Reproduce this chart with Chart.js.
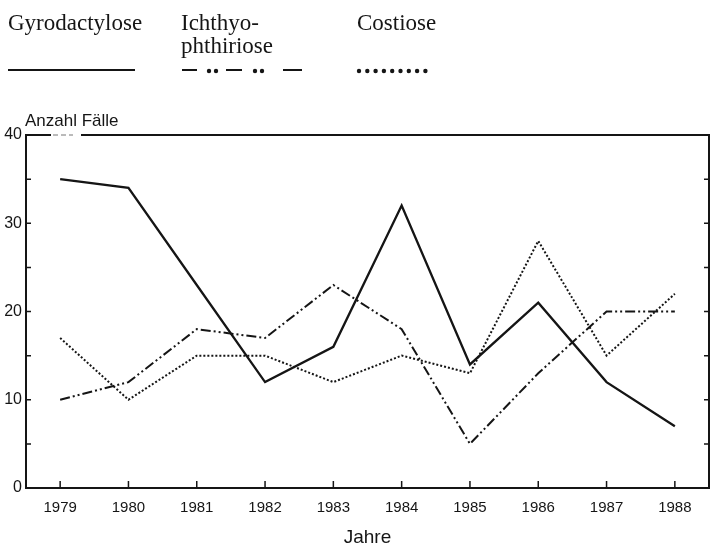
<!DOCTYPE html>
<html>
<head>
<meta charset="utf-8">
<script src="https://cdn.jsdelivr.net/npm/chart.js@4"></script>
<style>
  html, body { margin: 0; padding: 0; background: #fff; }
  #wrap { width: 712px; height: 547px; }
</style>
</head>
<body>
<div id="wrap"><canvas id="myChart" width="712" height="547"></canvas></div>
<script>
// Jahre und Fallzahlen
const years = ['1979', '1980', '1981', '1982', '1983', '1984', '1985', '1986', '1987', '1988'];
const gyrodactylose = [35, 34, 23, 12, 16, 32, 14, 21, 12, 7];
const ichthyo = [10, 12, 18, 17, 23, 18, 5, 13, 20, 20];
const costiose = [17, 10, 15, 15, 12, 15, 13, 28, 15, 22];
const yTicks = [0, 10, 20, 30, 40];

const ink = '#151515';
const dashDotDot = [10, 3, 2, 3, 2, 3];
const dotted = [2, 2];

// legende + rahmen selber malen
const frame = {
    id: 'frame',
    afterDraw(chart) {
        const c = chart.ctx;
        const a = chart.chartArea;
        const x = chart.scales.x;
        const y = chart.scales.y;
        c.save();
        c.strokeStyle = ink;
        c.fillStyle = ink;
        c.lineWidth = 2;
        c.setLineDash([]);

        // oben + rechts
        c.beginPath();
        c.moveTo(a.left, a.top); c.lineTo(51, a.top);
        c.moveTo(81, a.top); c.lineTo(a.right, a.top);
        c.lineTo(a.right, a.bottom);
        c.stroke();
        c.lineWidth = 1;
        c.strokeStyle = '#777';
        c.setLineDash([5, 3]);
        c.beginPath();
        c.moveTo(53, a.top); c.lineTo(73, a.top);
        c.stroke();
        c.setLineDash([]);
        c.strokeStyle = ink;

        // ticks nach innen
        c.lineWidth = 1.5;
        c.beginPath();
        for (let v = 0; v <= 40; v += 5) {
            const py = y.getPixelForValue(v);
            c.moveTo(a.left, py); c.lineTo(a.left + 5, py);
            c.moveTo(a.right, py); c.lineTo(a.right - 5, py);
        }
        for (let i = 0; i < years.length; i++) {
            const px = x.getPixelForValue(i);
            c.moveTo(px, a.bottom); c.lineTo(px, a.bottom - 7);
        }
        c.stroke();

        // y titel
        c.font = '17px "Liberation Sans", Arial, sans-serif';
        c.textBaseline = 'alphabetic';
        c.textAlign = 'left';
        c.fillText('Anzahl Fälle', 25, 126);

        // legende
        c.font = '23px "Liberation Serif", "Times New Roman", serif';
        c.fillText('Gyrodactylose', 8, 30);
        c.fillText('Ichthyo-', 181, 30);
        c.fillText('phthiriose', 181, 53);
        c.fillText('Costiose', 357, 30);

        c.lineWidth = 2;
        c.beginPath(); c.moveTo(8, 70); c.lineTo(135, 70); c.stroke();
        // strich punkt punkt
        c.beginPath(); c.moveTo(182, 70); c.lineTo(197, 70); c.stroke();
        c.beginPath(); c.moveTo(226, 70); c.lineTo(242, 70); c.stroke();
        c.beginPath(); c.moveTo(283, 70); c.lineTo(302, 70); c.stroke();
        [209, 216, 255, 262].forEach(px => {
            c.beginPath(); c.arc(px, 71, 2.2, 0, Math.PI * 2); c.fill();
        });
        for (let i = 0; i < 9; i++) {
            c.beginPath(); c.arc(359 + i * 8.3, 71, 2.2, 0, Math.PI * 2); c.fill();
        }
        c.restore();
    }
};

const ctx = document.getElementById('myChart').getContext('2d');
const myChart = new Chart(ctx, {
    type: 'line',
    data: {
        labels: years,
        datasets: [{
            label: 'Gyrodactylose',
            data: gyrodactylose,
            borderColor: ink,
            borderWidth: 2.3,
            pointRadius: 0
        }, {
            label: 'Ichthyophthiriose',
            data: ichthyo,
            borderColor: ink,
            borderWidth: 2,
            borderDash: dashDotDot,
            pointRadius: 0
        }, {
            label: 'Costiose',
            data: costiose,
            borderColor: ink,
            borderWidth: 2,
            borderDash: dotted,
            pointRadius: 0
        }]
    },
    options: {
        responsive: false,
        animation: false,
        layout: { padding: { top: 135, left: 0, right: 3, bottom: 0 } },
        plugins: {
            legend: { display: false },
            tooltip: { enabled: false }
        },
        elements: { line: { tension: 0, borderCapStyle: 'butt' } },
        scales: {
            x: {
                offset: true,
                grid: { display: false, drawTicks: false },
                border: { display: true, color: ink, width: 2 },
                ticks: {
                    color: ink,
                    padding: 11,
                    maxRotation: 0,
                    font: { family: '"Liberation Sans", Arial, sans-serif', size: 15 }
                },
                title: {
                    display: true,
                    text: 'Jahre',
                    color: ink,
                    padding: { top: 0, bottom: 0 },
                    font: { family: '"Liberation Sans", Arial, sans-serif', size: 19, lineHeight: 1 }
                },
                afterFit(scale) { scale.height = 59; }
            },
            y: {
                min: 0,
                max: 40,
                grid: { display: false, drawTicks: false },
                border: { display: true, color: ink, width: 2 },
                afterBuildTicks(scale) { scale.ticks = yTicks.map(v => ({ value: v })); },
                ticks: {
                    color: ink,
                    padding: 4,
                    font: { family: '"Liberation Sans", Arial, sans-serif', size: 16 }
                },
                afterFit(scale) { scale.width = 26; }
            }
        }
    },
    plugins: [frame]
});
</script>
</body>
</html>
